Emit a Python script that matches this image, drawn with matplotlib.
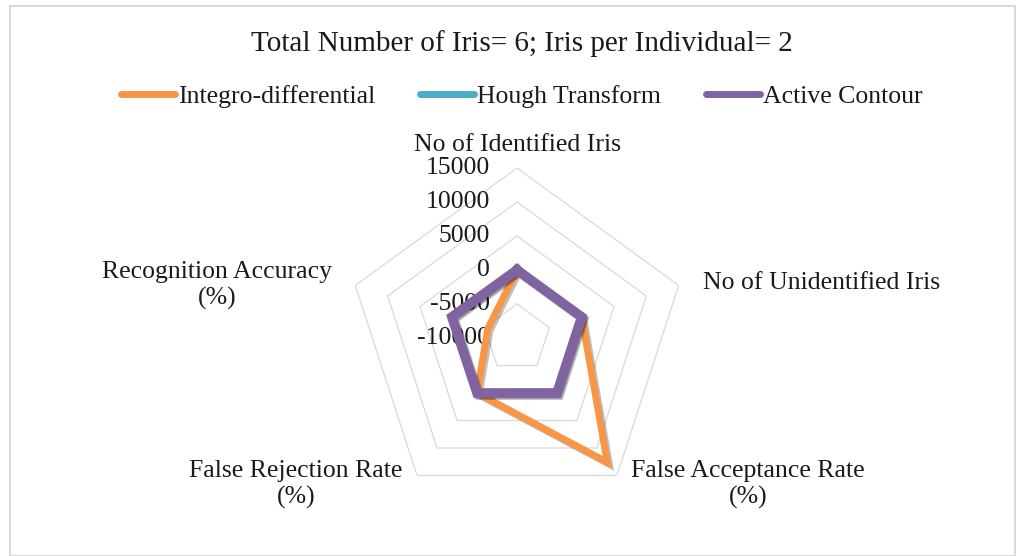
import numpy as np
import matplotlib
matplotlib.use("Agg")
import matplotlib.pyplot as plt
import matplotlib.patheffects as pe
from matplotlib.patches import Rectangle
from matplotlib.lines import Line2D

# Data
categories = ['No of Identified Iris', 'No of Unidentified Iris',
              'False Acceptance Rate\n(%)', 'False Rejection Rate\n(%)',
              'Recognition Accuracy\n(%)']
integro = [4, 2, 12600, 0, -5500]
hough = [4, 2, 0, 0, 67]
active = [4, 2, 0, 0, 67]
r_ticks = [-10000, -5000, 0, 5000, 10000, 15000]
series_names = ['Integro-differential', 'Hough Transform', 'Active Contour']
colors = ['#F79646', '#4BACC6', '#8064A2']

plt.rcParams['font.family'] = ['Liberation Serif', 'DejaVu Serif']
txt_color = '#1a1a1a'
grid_color = '#D9D9D9'
fs = 18.5

fig = plt.figure(figsize=(10.16, 5.56), dpi=100)
fig.patches.append(Rectangle((10 / 1016, 0), 1005 / 1016, 1 - 6 / 556,
                             transform=fig.transFigure, fill=False,
                             edgecolor='#D9D9D9', lw=1.5))

ax = fig.add_axes([347 / 1016, 48 / 556, 340 / 1016, 340 / 556], projection='polar')
ax.set_theta_offset(np.pi / 2)
ax.set_theta_direction(-1)
ax.set_ylim(r_ticks[0], r_ticks[-1])
ax.grid(False)
ax.spines['polar'].set_visible(False)
ax.set_xticks([])
ax.set_yticks([])
ax.patch.set_alpha(0)

n = len(categories)
theta = np.linspace(0, 2 * np.pi, n, endpoint=False)
theta_c = np.append(theta, theta[0])

# pentagon grid (no spokes, like the original)
for r in r_ticks[1:]:
    ax.plot(theta_c, [r] * (n + 1), color=grid_color, lw=0.9, zorder=1)

# tick labels on the vertical axis
for r in r_ticks:
    ax.annotate(str(r), xy=(0, r), xytext=(-27, 0), textcoords='offset pixels',
                ha='right', va='center', fontsize=fs, color=txt_color)

# series
widths = [5, 5, 7]
for vals, c, w, z in zip([integro, hough, active], colors, widths, [3, 4, 5]):
    v = np.append(vals, vals[0])
    ax.plot(theta_c, v, color=c, lw=w, solid_joinstyle='miter', zorder=z,
            path_effects=[pe.SimpleLineShadow(offset=(1.5, -1.5), alpha=0.25), pe.Normal()])

# category labels
offsets = [(0, 23), (24, 2), (131, -9), (-121, -9), (-138, 0)]
aligns = ['center', 'left', 'center', 'center', 'center']
for t, lab, off, ha in zip(theta, categories, offsets, aligns):
    ax.annotate(lab, xy=(t, r_ticks[-1]), xytext=off, textcoords='offset pixels',
                ha=ha, va='center', multialignment='center', fontsize=fs,
                linespacing=1.25, color=txt_color, annotation_clip=False)

fig.text(522 / 1016, 1 - 44 / 556, 'Total Number of Iris= 6; Iris per Individual= 2',
         ha='center', va='center', fontsize=21, color=txt_color)

handles = [Line2D([], [], color=c, lw=5, solid_capstyle='round') for c in colors]
fig.legend(handles, series_names, loc='center', bbox_to_anchor=(522 / 1016, 1 - 97 / 556),
           ncol=3, frameon=False, fontsize=fs, handlelength=2.1, handletextpad=0.12,
           columnspacing=1.75, labelcolor=txt_color)

fig.savefig('out.png', dpi=100, facecolor='white')
